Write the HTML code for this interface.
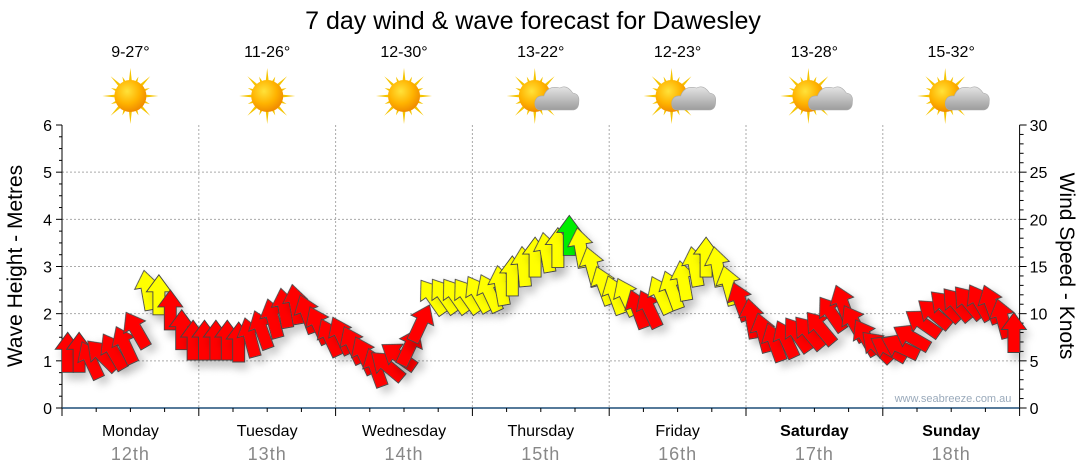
<!DOCTYPE html>
<html><head><meta charset="utf-8"><style>
html,body{margin:0;padding:0;background:#fff;}
svg{display:block;font-family:"Liberation Sans",sans-serif;}
</style></head><body>
<svg id="chart" width="1080" height="475" viewBox="0 0 1080 475">
<defs>
<filter id="sh" x="-50%" y="-50%" width="200%" height="200%"><feDropShadow dx="4" dy="7" stdDeviation="4" flood-color="#000" flood-opacity="0.2"/></filter>
<radialGradient id="sunG" cx="40%" cy="35%" r="65%"><stop offset="0" stop-color="#ffe23a"/><stop offset="0.6" stop-color="#ffb300"/><stop offset="1" stop-color="#f08c00"/></radialGradient>
<linearGradient id="cloudG" x1="0" y1="0" x2="0" y2="1"><stop offset="0" stop-color="#e4e4e4"/><stop offset="1" stop-color="#9c9c9c"/></linearGradient>
</defs>
<text x="533" y="29" text-anchor="middle" font-size="25" fill="#000">7 day wind &amp; wave forecast for Dawesley</text>
<g id="header"></g>
<g id="grid"></g>
<g id="axes"></g>
<g id="arrows"></g>
<text x="953" y="402" text-anchor="middle" font-size="11" fill="#9aaabb">www.seabreeze.com.au</text>
<text transform="translate(22,266) rotate(-90)" text-anchor="middle" font-size="21" fill="#000">Wave Height - Metres</text>
<text transform="translate(1060,266) rotate(90)" text-anchor="middle" font-size="21" fill="#000">Wind Speed - Knots</text>
</svg>
<script>
const days = ["Monday","Tuesday","Wednesday","Thursday","Friday","Saturday","Sunday"];
const dates = ["12th","13th","14th","15th","16th","17th","18th"];
const temps = ["9-27°","11-26°","12-30°","13-22°","12-23°","13-28°","15-32°"];
const cloudy = [false,false,false,true,true,true,true];
const waveTicks = [0,1,2,3,4,5,6];
const windTicks = [0,5,10,15,20,25,30];
// wind speed (knots), 2-hourly from hour 1 of Monday
const windSpeed = [
 5.9,5.9,5.1,5.6,6.0,6.7,8.3,12.5,12.0,10.4,8.3,7.2,
 7.2,7.2,7.2,7.0,7.5,8.3,9.5,10.6,11.0,10.0,8.8,7.5,
 7.7,6.7,5.6,4.3,4.5,5.5,6.5,9.0,11.8,11.9,11.9,11.9,
 12.1,12.2,13.0,14.0,15.0,16.0,16.5,17.0,18.3,17.0,15.0,13.0,
 12.0,11.8,10.5,10.5,12.0,12.5,13.5,15.0,16.0,15.0,13.0,11.3,
 9.5,8.0,7.0,7.3,7.8,8.0,8.5,10.0,11.0,9.0,7.5,6.5,
 6.3,6.5,7.5,9.0,10.0,10.8,11.0,11.2,11.2,11.0,9.5,8.0
];
// arrow rotation (degrees, 0 = pointing up)
const windDir = [
 0,0,-25,-45,-30,-25,-30,-10,0,0,0,0,
 0,0,0,0,-15,-20,-15,-10,-10,-20,-25,-25,
 -25,-25,-25,-20,-50,-55,25,25,-35,-35,-35,-35,
 -30,-25,-10,0,-5,0,-10,0,0,-10,-15,-20,
 -20,-25,-20,-25,-25,-20,-10,-10,0,-10,-15,-20,
 -10,-15,-20,-25,-35,-40,-40,-35,-20,-30,-30,-45,
 -60,-65,-60,-55,-50,-45,-40,-40,-30,-20,-15,0
];
const NS = "http://www.w3.org/2000/svg";
const X0 = 62, DAYW = 136.8, Y0 = 408, YTOP = 125;
function xT(h){ return X0 + h/24*DAYW; }
function yWave(m){ return Y0 - m/6*(Y0-YTOP); }
function yWind(k){ return Y0 - k/30*(Y0-YTOP); }
function mk(tag, attrs, parent){ const e=document.createElementNS(NS,tag); for(const k in attrs) e.setAttribute(k,attrs[k]); parent.appendChild(e); return e; }

// header
const hdr = document.getElementById('header');
days.forEach((d,i)=>{
  const cx = X0 + (i+0.5)*DAYW;
  const t = mk('text',{x:cx,y:57,'text-anchor':'middle','font-size':16,fill:'#000'},hdr);
  t.textContent = temps[i];
  
  
  const g = mk('g',{transform:'translate('+(cx+(cloudy[i]?-6:0))+',96)'},hdr);
  
  
  for(let r=0;r<16;r++){
    const a=r*22.5*Math.PI/180, L=(r%2?21:28);
    mk('path',{d:'M'+(Math.cos(a+0.13)*13)+' '+(Math.sin(a+0.13)*13)+' L'+(Math.cos(a)*L)+' '+(Math.sin(a)*L)+' L'+(Math.cos(a-0.13)*13)+' '+(Math.sin(a-0.13)*13)+'Z',fill:'#f5c400'},g);
  }
  mk('circle',{cx:0,cy:0,r:16,fill:'url(#sunG)'},g);
  if(cloudy[i]){
    mk('path',{d:'M6 14 Q0 14 0 7 Q1 -1 9 0 Q13 -11 25 -8 Q32 -12 38 -3 Q45 -2 44 6 Q44 14 37 14 Z',fill:'url(#cloudG)',stroke:'#aaa','stroke-width':0.6},g);
  }
});

// grid
const grid = document.getElementById('grid');
for(let m=1;m<=5;m++){
  const l=mk('line',{x1:X0,x2:X0+7*DAYW,y1:yWave(m),y2:yWave(m),stroke:'#aaa','stroke-width':1,'stroke-dasharray':'2,2'},grid);
  
  
}
for(let d=1;d<7;d++){
  const l=mk('line',{x1:X0+d*DAYW,x2:X0+d*DAYW,y1:YTOP,y2:Y0,stroke:'#aaa','stroke-width':1,'stroke-dasharray':'2,2'},grid);
  
  
}

// axes
const ax = document.getElementById('axes');
const XR = X0+7*DAYW;
mk('line',{x1:X0,x2:X0,y1:YTOP,y2:Y0,stroke:'#000','stroke-width':1},ax);
mk('line',{x1:XR,x2:XR,y1:YTOP,y2:Y0,stroke:'#000','stroke-width':1},ax);
mk('line',{x1:X0,x2:XR,y1:Y0,y2:Y0,stroke:'#1f4e79','stroke-width':1.5},ax);
for(let q=0;q<=24;q++){
  const y = yWave(q/4);
  mk('line',{x1:X0-(q%4?3:6),x2:X0,y1:y,y2:y,stroke:'#000','stroke-width':1},ax);
}
waveTicks.forEach(v=>{
  const t=mk('text',{x:X0-10,y:yWave(v)+6,'text-anchor':'end','font-size':16,fill:'#000'},ax);
  t.textContent=v;
  
  
});
for(let k=0;k<=30;k++){
  const y=yWind(k);
  mk('line',{x1:XR,x2:XR+(k%5?4:7),y1:y,y2:y,stroke:'#000','stroke-width':1},ax);
}
windTicks.forEach(v=>{
  const t=mk('text',{x:XR+10,y:yWind(v)+6,'font-size':16,fill:'#000'},ax);
  t.textContent=v;
  
  
});
for(let h=0;h<=168;h+=6){
  const x=xT(h);
  mk('line',{x1:x,x2:x,y1:Y0,y2:Y0+(h%24?4:8),stroke:'#000','stroke-width':1},ax);
}
days.forEach((d,i)=>{
  const cx=X0+(i+0.5)*DAYW;
  const t=mk('text',{x:cx,y:436,'text-anchor':'middle','font-size':16,fill:'#000','font-weight':(i>=5?'bold':'normal')},ax);
  t.textContent=d;
  
  
  const t2=mk('text',{x:cx,y:460,'text-anchor':'middle','font-size':18,fill:'#888','letter-spacing':'1'},ax);
  t2.textContent=dates[i];
  
  
});

// arrows
const ag = document.getElementById('arrows');
const shape = 'M0 -20 L12.5 -3 L6 -3 L6 20 L-6 20 L-6 -3 L-12.5 -3 Z';
function col(k){ return k>=18 ? '#00ee00' : (k>=11.6 ? '#ffff00' : '#ff0000'); }
windSpeed.forEach((k,i)=>{
  const x = xT(1+i*2), y = yWind(k);
  const p = mk('path',{d:shape,transform:'translate('+x.toFixed(1)+','+y.toFixed(1)+') rotate('+windDir[i]+')',fill:col(k),stroke:'#444','stroke-width':0.9,'stroke-linejoin':'miter',filter:'url(#sh)'},ag);
  
  
});
</script>
</body></html>
